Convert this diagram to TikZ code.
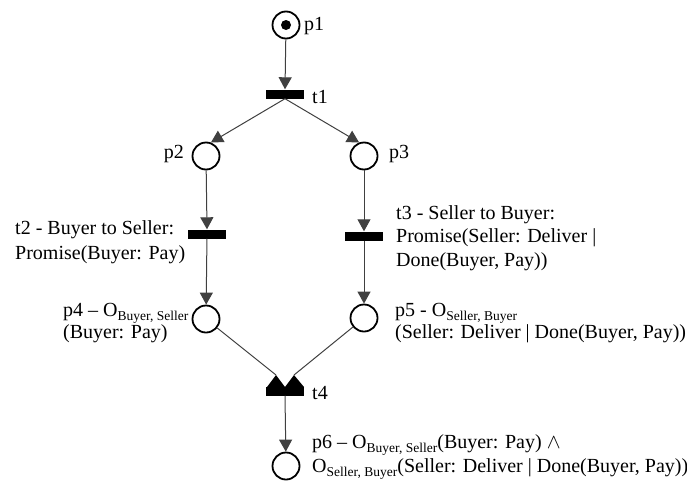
\documentclass[tikz,border=0pt]{standalone}
\usepackage{fontspec}
\setmainfont{Liberation Serif}
\usetikzlibrary{arrows.meta}
\newcommand{\sbs}[1]{\raisebox{-3.5pt}{\fontsize{13.5}{14}\selectfont #1}}
\begin{document}
\begin{tikzpicture}[x=1pt,y=1pt,
  place/.style={circle,draw=black,line width=1.8pt,minimum size=27pt,inner sep=0pt},
  trans/.style={rectangle,fill=black,minimum width=38pt,minimum height=9pt,inner sep=0pt},
  arc/.style={draw=black!75,line width=1pt,-{Triangle[length=12pt,width=13pt]}},
  plain/.style={draw=black!75,line width=1pt},
  lbl/.style={inner sep=0pt,align=left,font=\fontsize{20}{22.5}\selectfont},
  tok/.style={circle,fill=black,minimum size=10pt,inner sep=0pt}]
\useasboundingbox (0,0) rectangle (687,-482);
% places
\node[place] (p1) at (286,-25) {};
\node[tok] (tk) at (p1) {};
\node[place] (p2) at (206,-156) {};
\node[place] (p3) at (364,-156) {};
\node[place] (p4) at (206,-319) {};
\node[place] (p5) at (364,-318) {};
\node[place] (p6) at (286,-466) {};
% transitions
\node[trans] (t1) at (285,-94) {};
\node[trans] (t2) at (207,-234) {};
\node[trans] (t3) at (364,-236) {};
\node[trans] (t4) at (285,-391) {};
\coordinate (a4l) at (276,-375);
\coordinate (a4r) at (294,-375);
\fill[black] (267,-387) -- (a4l) -- (285,-387) -- cycle;
\fill[black] (285,-387) -- (a4r) -- (304,-387) -- cycle;
% arcs
\draw[arc] (p1) -- (t1.north);
\draw[arc] (t1.south) -- (p2.70);
\draw[arc] (t1.south) -- (p3.110);
\draw[arc] (p2) -- (t2.north);
\draw[arc] (p3) -- (t3.north);
\draw[arc] (t2) -- (p4);
\draw[arc] (t3) -- (p5);
\draw[plain] (p4) -- (a4l);
\draw[plain] (p5) -- (a4r);
\draw[arc] (t4.south) -- (p6);
% labels
\node[lbl,anchor=west] (lp1) at (304,-26) {p1};
\node[lbl,anchor=west] (lt1) at (312,-97) {t1};
\node[lbl,anchor=east] (lp2) at (184,-154) {p2};
\node[lbl,anchor=west] (lp3) at (389,-154) {p3};
\node[lbl,anchor=north west,font=\fontsize{20}{25.5}\selectfont] (lt2) at (15,-220) {t2 - Buyer to Seller:\\Promise(Buyer: Pay)};
\node[lbl,anchor=north west,font=\fontsize{20}{23.5}\selectfont] (lt3) at (396,-205) {t3 - Seller to Buyer:\\Promise(Seller: Deliver |\\Done(Buyer, Pay))};
\node[lbl,anchor=north west,font=\fontsize{20}{20}\selectfont] (lp4) at (63,-303.5) {p4 – O\sbs{Buyer, Seller}\\(Buyer: Pay)};
\node[lbl,anchor=north west,font=\fontsize{20}{20}\selectfont] (lp5) at (395,-303.5) {p5 - O\sbs{Seller, Buyer}\\(Seller: Deliver | Done(Buyer, Pay))};
\node[lbl,anchor=west] (lt4) at (312,-393) {t4};
\node[lbl,anchor=north west,font=\fontsize{20}{24}\selectfont] (lp6) at (312,-434.5) {p6 – O\sbs{Buyer, Seller}(Buyer: Pay) $\wedge$\\O\sbs{Seller, Buyer}(Seller: Deliver | Done(Buyer, Pay))};
\end{tikzpicture}
\end{document}
